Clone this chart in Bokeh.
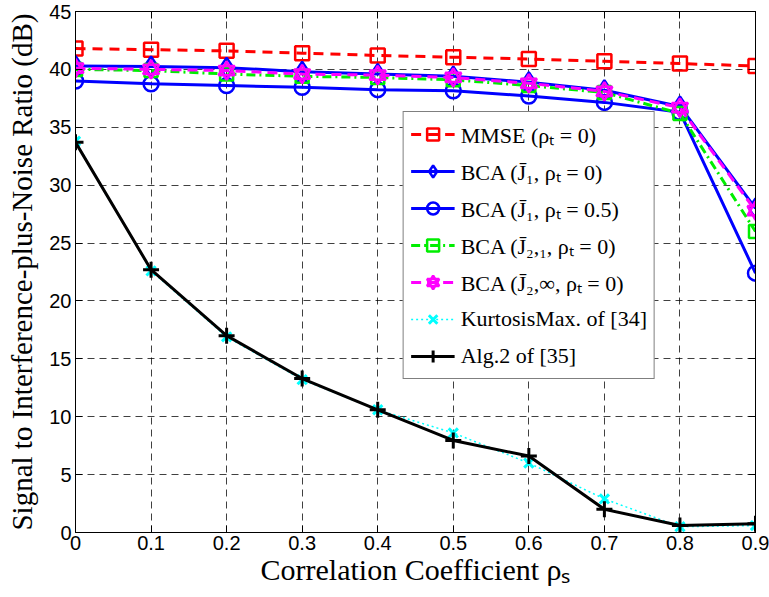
from bokeh.plotting import figure
from bokeh.models import Legend, LegendItem, LinearAxis, FixedTicker, Range1d, CustomJSTickFormatter
from bokeh.embed import file_html
from bokeh.resources import INLINE

rho_s = [0.0, 0.1, 0.2, 0.3, 0.4, 0.5, 0.6, 0.7, 0.8, 0.9]
mmse = [41.8, 41.7, 41.6, 41.4, 41.2, 41.05, 40.9, 40.7, 40.5, 40.3]
bca_j1 = [40.3, 40.25, 40.15, 39.8, 39.6, 39.4, 38.9, 38.2, 36.8, 28.0]
bca_j1_05 = [39.0, 38.75, 38.6, 38.45, 38.25, 38.15, 37.7, 37.15, 36.3, 22.4]
bca_j21 = [40.0, 39.9, 39.6, 39.4, 39.3, 39.1, 38.6, 38.0, 36.2, 26.0]
bca_j2inf = [40.1, 40.0, 39.9, 39.6, 39.5, 39.3, 38.8, 38.1, 36.7, 27.8]
kurtosis = [33.8, 22.6, 16.9, 13.2, 10.6, 8.6, 6.0, 2.9, 0.5, 0.6]
alg2 = [33.7, 22.7, 17.0, 13.3, 10.6, 7.95, 6.6, 2.0, 0.6, 0.75]

x_ticks = [0.0, 0.1, 0.2, 0.3, 0.4, 0.5, 0.6, 0.7, 0.8, 0.9]
y_ticks = [0, 5, 10, 15, 20, 25, 30, 35, 40, 45]

labels = [
    "MMSE (\u03c1\u209c = 0)",
    "BCA (J\u0304\u2081, \u03c1\u209c = 0)",
    "BCA (J\u0304\u2081, \u03c1\u209c = 0.5)",
    "BCA (J\u0304\u2082,\u2081, \u03c1\u209c = 0)",
    "BCA (J\u0304\u2082,\u221e, \u03c1\u209c = 0)",
    "KurtosisMax. of [34]",
    "Alg.2 of [35]",
]

p = figure(width=769, height=597, output_backend="svg", toolbar_location=None,
           x_range=Range1d(0, 0.9), y_range=Range1d(0, 45),
           min_border_left=75, min_border_right=14, min_border_top=11,
           min_border_bottom=65, background_fill_color="white",
           border_fill_color="white")
p.outline_line_color = "black"
p.outline_line_width = 1

tick_font = "Liberation Sans"
serif = "Liberation Serif"

p.xaxis.ticker = FixedTicker(ticks=x_ticks)
p.yaxis.ticker = FixedTicker(ticks=y_ticks)
for ax in (p.xaxis[0], p.yaxis[0]):
    ax.major_tick_in = 7
    ax.major_tick_out = 0
    ax.minor_tick_in = 0
    ax.minor_tick_out = 0
    ax.major_label_text_font = tick_font
    ax.major_label_text_font_size = "20px"
    ax.major_label_text_color = "black"
    ax.axis_line_color = "black"
    ax.major_tick_line_color = "black"
    ax.axis_label_text_font = serif
    ax.axis_label_text_font_style = "normal"
    ax.axis_label_text_color = "black"
p.xaxis.axis_label = "Correlation Coefficient \u03c1\u209b"
p.yaxis.axis_label = "Signal to Interference-plus-Noise Ratio (dB)"
p.xaxis.axis_label_text_font_size = "30px"
p.yaxis.axis_label_text_font_size = "29px"
p.xaxis.major_label_standoff = 3
p.yaxis.major_label_standoff = 4
p.xaxis.axis_label_standoff = 0
p.yaxis.axis_label_standoff = 8

blank = CustomJSTickFormatter(code="return '';")
top = LinearAxis(ticker=FixedTicker(ticks=x_ticks), major_tick_in=7, major_tick_out=0,
                 minor_tick_in=0, minor_tick_out=0, formatter=blank,
                 major_label_standoff=0, axis_line_color="black")
right = LinearAxis(ticker=FixedTicker(ticks=y_ticks), major_tick_in=7, major_tick_out=0,
                   minor_tick_in=0, minor_tick_out=0, formatter=blank,
                   major_label_standoff=0, axis_line_color="black")
p.add_layout(top, "above")
p.add_layout(right, "right")

for g in (p.xgrid[0], p.ygrid[0]):
    g.grid_line_color = "black"
    g.grid_line_dash = "7 5"
    g.grid_line_width = 1
    g.grid_line_alpha = 0.75
p.xgrid.ticker = FixedTicker(ticks=x_ticks)
p.ygrid.ticker = FixedTicker(ticks=y_ticks)

items = []

l = p.line(rho_s, mmse, line_color="red", line_width=3, line_dash="10 7")
m = p.scatter(rho_s, mmse, marker="square", size=14, line_color="red", line_width=2.5,
              fill_color="white", fill_alpha=0)
items.append(LegendItem(label=labels[0], renderers=[l, m]))

l = p.line(rho_s, bca_j1, line_color="blue", line_width=3)
m = p.scatter(rho_s, bca_j1, marker="diamond", size=20, line_color="blue", line_width=2.5,
              fill_alpha=0)
items.append(LegendItem(label=labels[1], renderers=[l, m]))

l = p.line(rho_s, bca_j1_05, line_color="blue", line_width=3)
m = p.scatter(rho_s, bca_j1_05, marker="circle", size=15, line_color="blue", line_width=2.5,
              fill_alpha=0)
items.append(LegendItem(label=labels[2], renderers=[l, m]))

l = p.line(rho_s, bca_j21, line_color="#00ee00", line_width=3, line_dash="9 4 2 4")
m = p.scatter(rho_s, bca_j21, marker="square", size=13, line_color="#00ee00", line_width=2.5,
              fill_alpha=0)
items.append(LegendItem(label=labels[3], renderers=[l, m]))

l = p.line(rho_s, bca_j2inf, line_color="magenta", line_width=3, line_dash="10 6")
m1 = p.scatter(rho_s, bca_j2inf, marker="triangle", size=16, line_color="magenta",
               line_width=2.5, fill_alpha=0)
m2 = p.scatter(rho_s, bca_j2inf, marker="inverted_triangle", size=16, line_color="magenta",
               line_width=2.5, fill_alpha=0)
items.append(LegendItem(label=labels[4], renderers=[l, m1, m2]))

l = p.line(rho_s, kurtosis, line_color="cyan", line_width=1.5, line_dash="2 3")
m = p.scatter(rho_s, kurtosis, marker="x", size=13, line_color="cyan", line_width=3)
items.append(LegendItem(label=labels[5], renderers=[l, m]))

l = p.line(rho_s, alg2, line_color="black", line_width=3)
m = p.scatter(rho_s, alg2, marker="cross", size=16, line_color="black", line_width=3)
items.append(LegendItem(label=labels[6], renderers=[l, m]))

legend = Legend(items=items, location="top_right")
legend.margin = 100
legend.padding = 7
legend.spacing = 7
legend.glyph_width = 44
legend.glyph_height = 30
legend.label_height = 30
legend.label_standoff = 6
legend.label_text_font = serif
legend.label_text_font_size = "22px"
legend.label_text_color = "black"
legend.border_line_color = "black"
legend.border_line_width = 1
legend.background_fill_color = "white"
legend.background_fill_alpha = 1
p.add_layout(legend, "center")

open("out.html", "w").write(file_html(p, INLINE))
